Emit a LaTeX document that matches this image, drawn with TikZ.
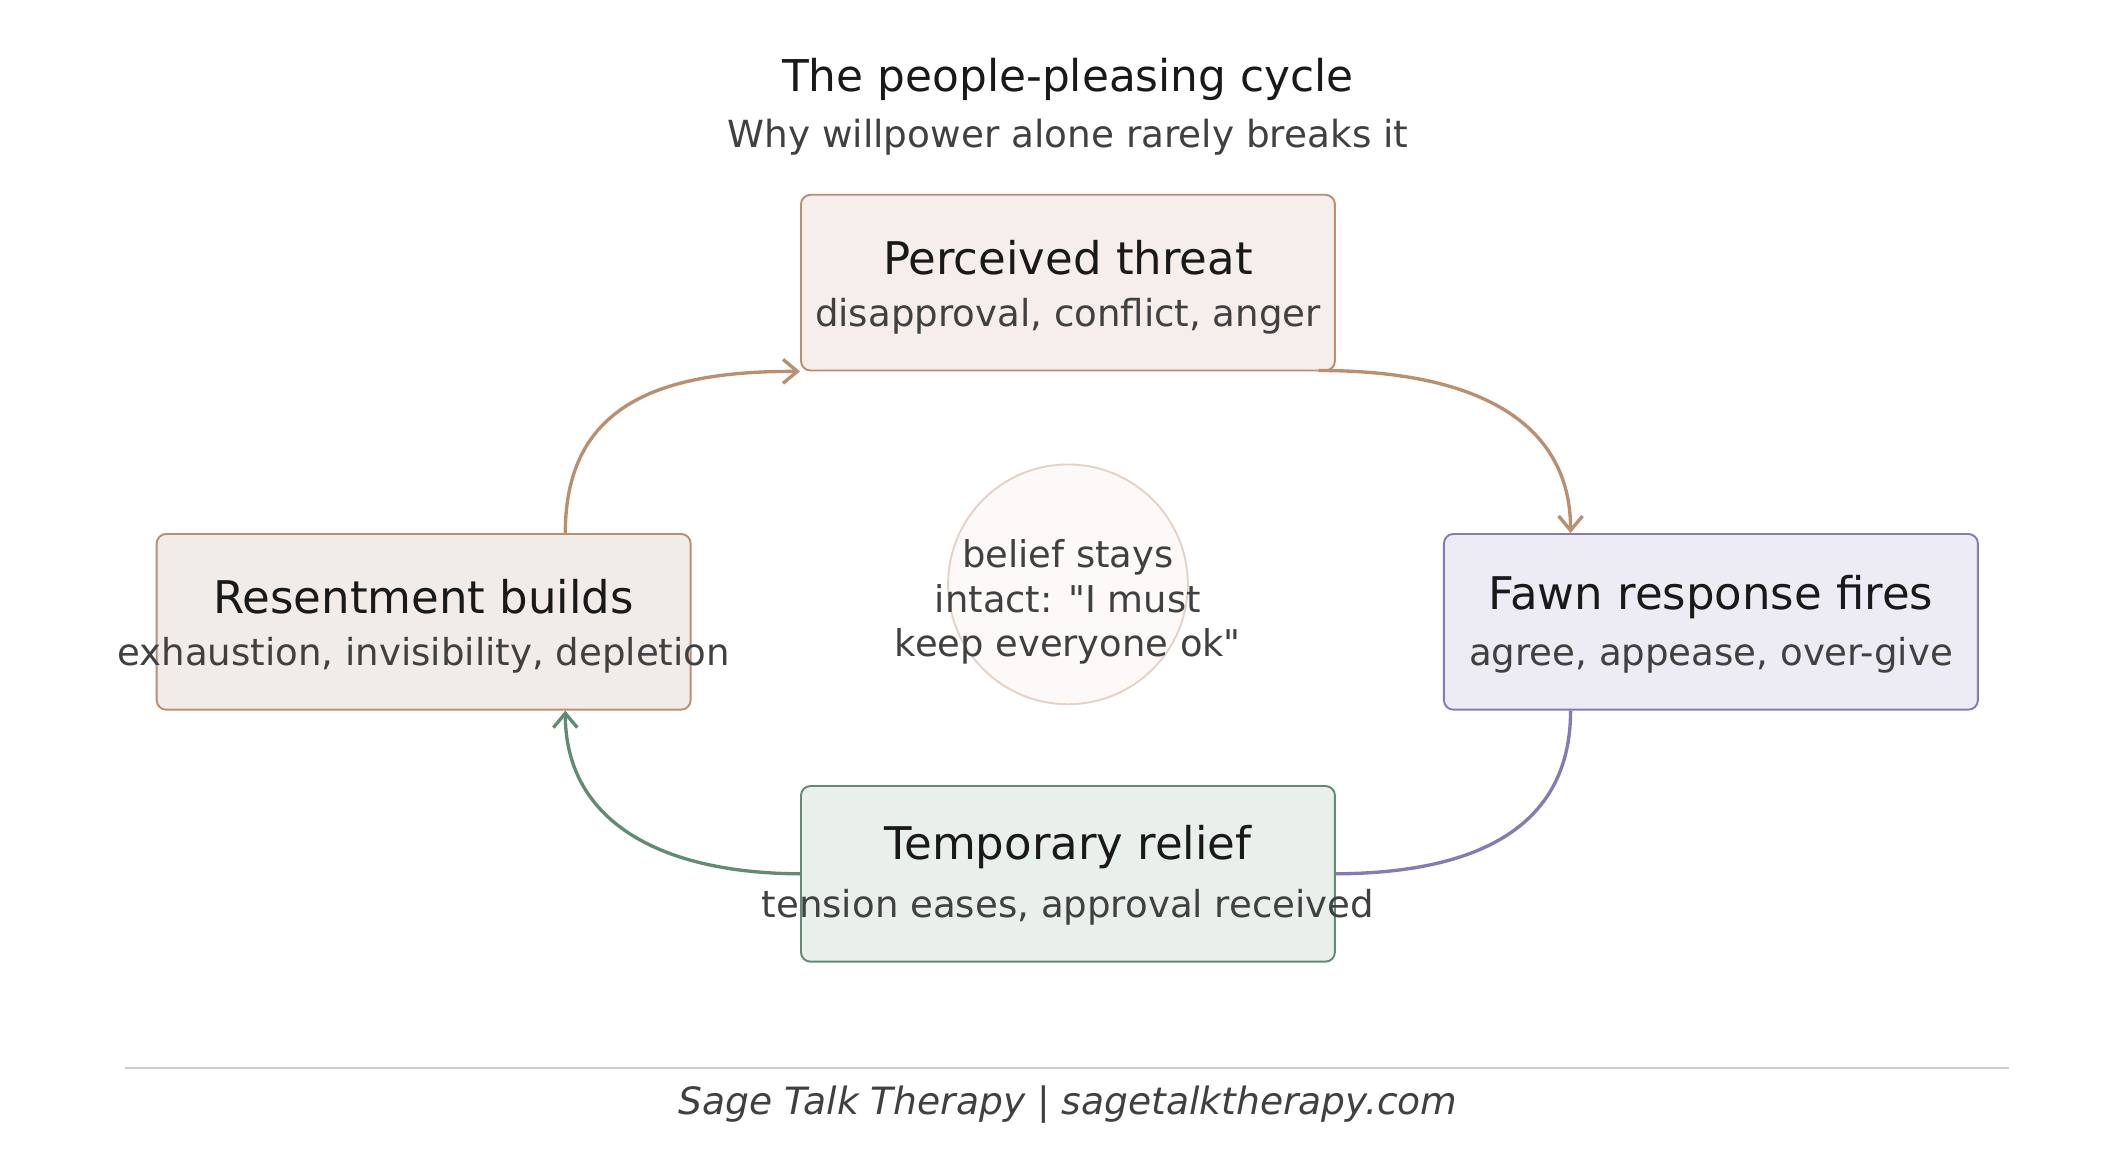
\documentclass[tikz,border=0pt]{standalone}
\usepackage{fontspec}
\setmainfont{DejaVu Sans}
\usetikzlibrary{arrows.meta}
\definecolor{brn}{HTML}{BB8E70}
\definecolor{prp}{HTML}{8778B6}
\definecolor{grn}{HTML}{5F8C73}
\definecolor{resf}{HTML}{F1ECE7}
\begin{document}
\begin{tikzpicture}[x=0.01cm,y=-0.01cm,
 box/.style={draw,rounded corners=2pt,line width=0.4pt,minimum width=392*0.01cm,minimum height=129*0.01cm,inner sep=0pt},
 ttl/.style={font=\fontsize{9.4}{11}\selectfont,text=black!90},
 sub/.style={font=\fontsize{7.75}{9}\selectfont,text=black!75},
 arr/.style={line width=0.7pt,-{Straight Barb[length=3pt,width=5pt]}}]
\useasboundingbox (0,0) rectangle (1560,846.5);
\node[font=\fontsize{9.15}{11}\selectfont,text=black!90] (t) at (784,58) {The people-pleasing cycle};
\node[font=\fontsize{7.8}{9}\selectfont,text=black!75] (st) at (784,101) {Why willpower alone rarely breaks it};
\node[box,draw=brn,fill=brn!15] (a) at (784,207.5) {};
\node[box,draw=prp,fill=prp!15] (b) at (1256,456.5) {};
\node[box,draw=grn,fill=grn!14] (c) at (784,641.5) {};
\node[box,draw=brn,fill=resf] (d) at (311,456.5) {};
\node[ttl] at (784,189) {Perceived threat};
\node[sub] at (784,232) {disapproval, conflict, anger};
\node[ttl] at (1256,438) {Fawn response fires};
\node[sub] at (1256,481) {agree, appease, over-give};
\node[ttl] at (784,622) {Temporary relief};
\node[sub] at (784,666) {tension eases, approval received};
\node[ttl] at (311,438) {Resentment builds};
\node[sub] at (311,481) {exhaustion, invisibility, depletion};
\node[circle,draw=brn!40,fill=brn!5,minimum size=176*0.01cm,line width=0.4pt] (o) at (784,429) {};
\node[sub,align=center,font=\fontsize{7.7}{9.3}\selectfont] at (784,442) {belief stays\\intact: \textquotedbl I must\\keep everyone ok\textquotedbl};
\draw[arr,brn] (d.north -| 415,0) .. controls (415,300) and (480,272) .. (a.south west);
\draw[arr,brn] (968,272) .. controls (1100,272) and (1153,320) .. (b.north -| 1153,0);
\draw[line width=0.7pt,prp] (b.south -| 1153,0) .. controls (1153,610) and (1080,641) .. (c.east);
\draw[arr,grn] (c.west) .. controls (480,641) and (415,600) .. (d.south -| 415,0);
\coordinate (l1) at (92,784); \coordinate (l2) at (1475,784);
\draw[black!20,line width=0.5pt] (l1) -- (l2);
\node[font=\fontsize{7.85}{10}\selectfont\itshape,text=black!75] (f) at (784,811) {Sage Talk Therapy | sagetalktherapy.com};
\end{tikzpicture}
\end{document}
